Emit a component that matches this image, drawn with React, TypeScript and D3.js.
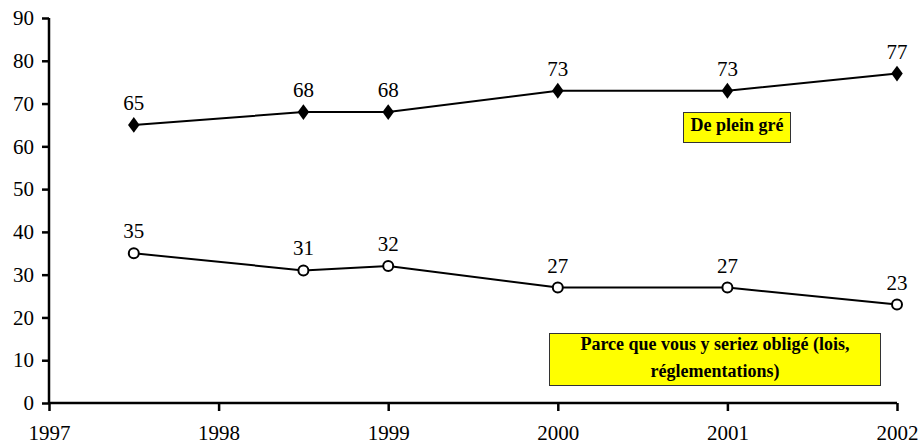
import React, { useEffect, useRef } from 'react';
import * as d3 from 'd3';

const years = [1997.5, 1998.5, 1999, 2000, 2001, 2002];
const pleinGre = [65, 68, 68, 73, 73, 77];
const oblige = [35, 31, 32, 27, 27, 23];
const xTicks = [1997, 1998, 1999, 2000, 2001, 2002];
const yTicks = [0, 10, 20, 30, 40, 50, 60, 70, 80, 90];

const FONT = 'Liberation Serif';

const App = () => {
  const svgRef = useRef<SVGSVGElement>(null);

  useEffect(() => {
    if (!svgRef.current) return;
    const svg = d3.select(svgRef.current);
    svg.selectAll('*').remove();

    const x = d3.scaleLinear().domain([1997, 2002]).range([49, 897]);
    const y = d3.scaleLinear().domain([0, 90]).range([403, 18]);

    // axes
    const xAxis = svg.append('g')
      .attr('transform', `translate(0,${y(0)})`)
      .call(d3.axisBottom(x).tickValues(xTicks).tickFormat(d3.format('d')).tickSize(8).tickPadding(10));
    const yAxis = svg.append('g')
      .attr('transform', `translate(${x(1997)},0)`)
      .call(d3.axisLeft(y).tickValues(yTicks).tickSize(7).tickPadding(8));

    [xAxis, yAxis].forEach(a => {
      a.attr('font-family', null).attr('font-size', null);
      a.select('.domain').attr('stroke', '#000').attr('stroke-width', 2.5);
      a.selectAll('.tick line').attr('stroke', '#000').attr('stroke-width', 2.5);
      a.selectAll('.tick text').attr('fill', '#000')
        .attr('font-family', FONT).attr('font-size', 21);
    });
    // keep the year labels inside the picture
    xAxis.selectAll('.tick text').attr('dy', null).attr('y', 36.5);
    xAxis.select('.domain').attr('d', `M${x(1997)},0H${x(2002)}`);
    yAxis.select('.domain').attr('d', `M0,${y(0)}V${y(90)}`);

    const line = d3.line<number>()
      .x((_, i) => x(years[i]))
      .y(d => y(d));

    const drawSeries = (vals: number[], marker: 'diamond' | 'circle') => {
      svg.append('path')
        .datum(vals)
        .attr('fill', 'none')
        .attr('stroke', '#000')
        .attr('stroke-width', 2)
        .attr('d', line);

      const g = svg.append('g');
      vals.forEach((v, i) => {
        const cx = x(years[i]);
        const cy = y(v);
        if (marker === 'diamond') {
          g.append('path')
            .attr('d', d3.symbol(d3.symbolDiamond, 80)())
            .attr('transform', `translate(${cx},${cy}) scale(1.2,0.95)`)
            .attr('fill', '#000');
        } else {
          g.append('circle')
            .attr('cx', cx).attr('cy', cy).attr('r', 5)
            .attr('fill', '#fff').attr('stroke', '#000').attr('stroke-width', 2);
        }
        g.append('text')
          .attr('x', cx)
          .attr('y', cy - 15)
          .attr('text-anchor', 'middle')
          .attr('font-family', FONT)
          .attr('font-size', 21)
          .text(v);
      });
    };

    drawSeries(pleinGre, 'diamond');
    drawSeries(oblige, 'circle');

    // labels in yellow boxes
    const label = (bx: number, by: number, bw: number, bh: number, first: number, lines: string[]) => {
      svg.append('rect')
        .attr('x', bx).attr('y', by).attr('width', bw).attr('height', bh)
        .attr('fill', '#ffff00').attr('stroke', '#333').attr('stroke-width', 1);
      lines.forEach((t, i) => {
        svg.append('text')
          .attr('x', bx + bw / 2)
          .attr('y', by + first + i * 27)
          .attr('text-anchor', 'middle')
          .attr('font-family', FONT)
          .attr('font-size', 18)
          .attr('font-weight', 'bold')
          .text(t);
      });
    };
    label(683.5, 112.5, 107, 30, 18, ['De plein gré']);
    label(549.5, 333.5, 331, 52, 16, ['Parce que vous y seriez obligé (lois,', 'réglementations)']);
  }, []);

  return (
    <svg ref={svgRef} width={920} height={445}
      style={{ position: 'absolute', left: 0, top: 0, background: '#fff' }} />
  );
};

export default App;
